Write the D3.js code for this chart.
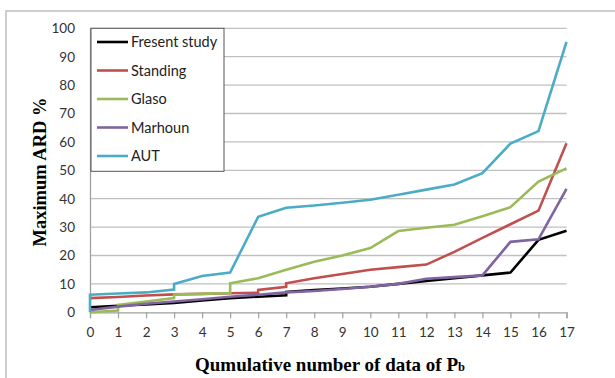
<!DOCTYPE html>
<html><head><meta charset="utf-8">
<script src="https://cdn.jsdelivr.net/npm/d3@7"></script>
<style>body{margin:0;background:#fff}svg{display:block}</style>
</head><body>
<script>
const seriesNames = ["Fresent study","Standing","Glaso","Marhoun","AUT"];
const seriesColors = ["#000000","#C0504D","#9BBB59","#8064A2","#4BACC6"];
const xTicks = d3.range(0,18);
const yTicks = [0,10,20,30,40,50,60,70,80,90,100];

const presentX = [0,1,2,3,4,5,6,7,7,8,9,10,11,12,13,14,15,16,17];
const presentY = [1.8,2.3,2.8,3.3,4.2,5.0,5.5,6.0,7.2,7.8,8.4,9.0,10.0,11.0,12.0,13.0,14.0,25.5,28.7];
const standingX = [0,1,2,3,4,5,6,6,7,7,8,9,10,11,12,13,14,15,16,17];
const standingY = [5.0,5.4,5.9,6.3,6.5,6.7,6.9,7.9,9.0,10.2,12.0,13.5,15.0,15.9,16.8,21.3,26.2,31.0,35.8,59.5];
const glasoX = [0,1,1,2,3,3,4,5,5,6,7,8,9,10,11,12,13,14,15,16,17];
const glasoY = [0,0.6,2.6,3.8,5.0,6.3,6.5,6.8,10.2,12.0,15.0,17.8,20.0,22.6,28.6,29.8,30.8,33.8,37.0,46.0,50.7];
const marhounX = [0,1,2,3,4,5,6,7,8,9,10,11,12,13,14,15,16,17];
const marhounY = [0.8,2.0,3.0,3.8,4.6,5.5,6.2,7.0,7.5,8.2,9.0,10.0,11.8,12.4,13.0,24.8,25.7,43.5];
const autX = [0,0,1,2,3,3,4,5,6,7,8,9,10,11,12,13,14,15,16,17];
const autY = [0,6.2,6.6,7.0,8.0,10.0,12.8,14.0,33.6,36.8,37.6,38.6,39.6,41.4,43.2,45.0,49.0,59.4,63.8,95.2];

const seriesX = [presentX,standingX,glasoX,marhounX,autX];
const seriesY = [presentY,standingY,glasoY,marhounY,autY];

const W=615,H=378;
const svg=d3.select("body").append("svg").attr("width",W).attr("height",H);
svg.append("rect").attr("x",6).attr("y",11).attr("width",W).attr("height",H)
  .attr("fill","none").attr("stroke","#bfbfbf").attr("stroke-width",1.5);

const x=d3.scaleLinear().domain([0,17]).range([90,566.5]);
const y=d3.scaleLinear().domain([0,100]).range([312.3,28.3]);
const tickFont="Lato, 'Open Sans', sans-serif";

svg.append("g").selectAll("line").data(yTicks.filter(d=>d>0)).join("line")
  .attr("x1",x(0)).attr("x2",x(17)).attr("y1",d=>y(d)).attr("y2",d=>y(d))
  .attr("stroke","#c0c0c0").attr("stroke-width",1.3);

const xa=svg.append("g").attr("transform",`translate(0,${y(0)})`)
  .call(d3.axisBottom(x).tickValues(xTicks).tickSize(6).tickPadding(9).tickFormat(d3.format("d")));
xa.select(".domain").attr("stroke","#a0a0a0").attr("stroke-width",1.3);
xa.selectAll(".tick line").attr("stroke","#a0a0a0").attr("stroke-width",1.2);
xa.selectAll("text").attr("font-family",tickFont).attr("font-size",13.5).attr("fill","#333");

const ya=svg.append("g").attr("transform",`translate(${x(0)},0)`)
  .call(d3.axisLeft(y).tickValues(yTicks).tickSize(0).tickPadding(15));
ya.select(".domain").attr("stroke","#a0a0a0").attr("stroke-width",1.3);
ya.selectAll("text").attr("font-family",tickFont).attr("font-size",13.5).attr("fill","#333");

const line=d3.line().x(d=>x(d[0])).y(d=>y(d[1]));
seriesNames.forEach((n,i)=>{
  const pts=seriesX[i].map((v,j)=>[v,seriesY[i][j]]);
  svg.append("path").datum(pts).attr("d",line).attr("fill","none")
    .attr("stroke",seriesColors[i]).attr("stroke-width",2.6).attr("stroke-linejoin","miter");
});

const lg=svg.append("g");
lg.append("rect").attr("x",91).attr("y",28.3).attr("width",133).attr("height",143)
  .attr("fill","#fff").attr("stroke","#555").attr("stroke-width",1);
seriesNames.forEach((n,i)=>{
  const cy=42+i*28.5;
  lg.append("line").attr("x1",97).attr("x2",128).attr("y1",cy).attr("y2",cy)
    .attr("stroke",seriesColors[i]).attr("stroke-width",2.6);
  lg.append("text").attr("x",131).attr("y",cy).attr("dy","0.35em")
    .attr("font-family",tickFont).attr("font-size",14.5).attr("fill","#222").text(n);
});

const t=svg.append("text").attr("x",330).attr("y",371).attr("text-anchor","middle")
  .attr("font-family","'Liberation Serif', serif").attr("font-weight","bold").attr("font-size",19).attr("fill","#000");
t.append("tspan").text("Qumulative number of data  of P");
t.append("tspan").attr("font-size",12.5).text("b");

svg.append("text").attr("transform","translate(46,172) rotate(-90)").attr("text-anchor","middle")
  .attr("font-family","'Liberation Serif', serif").attr("font-weight","bold").attr("font-size",18.5).attr("fill","#000")
  .text("Maximum ARD %");
</script>
</body></html>
